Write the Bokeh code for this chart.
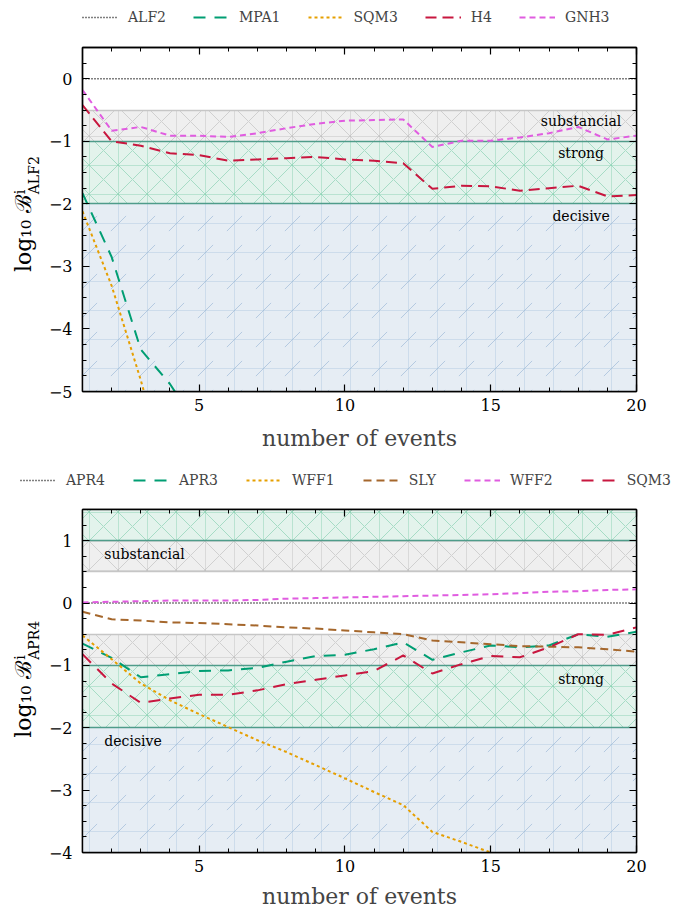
import math
from bokeh.plotting import figure
from bokeh.models import (Range1d, SingleIntervalTicker, LinearAxis, Legend,
                          LegendItem, Label, CustomJSTickFormatter)
from bokeh.layouts import column, row
from bokeh.embed import file_html
from bokeh.resources import INLINE
from bokeh.core.properties import value

FONT = "DejaVu Serif"

# ---------------- data ----------------
n_events = list(range(1, 21))

# top panel (reference EOS: ALF2)
top_alf2 = [0.0, 0.0, 0.0, 0.0, 0.0, 0.0, 0.0, 0.0, 0.0, 0.0,
            0.0, 0.0, 0.0, 0.0, 0.0, 0.0, 0.0, 0.0, 0.0, 0.0]
top_mpa1 = [-1.83, -2.85, -4.33, -4.88, -5.60]
top_sqm3 = [-2.12, -3.31, -4.82, -6.50]
top_h4 = [-0.42, -1.00, -1.07, -1.19, -1.22, -1.31, -1.29, -1.27, -1.25, -1.29,
          -1.31, -1.35, -1.76, -1.71, -1.72, -1.79, -1.75, -1.71, -1.88, -1.86]
top_gnh3 = [-0.18, -0.83, -0.77, -0.91, -0.91, -0.93, -0.87, -0.79, -0.72, -0.67,
            -0.66, -0.65, -1.09, -0.99, -0.99, -0.94, -0.87, -0.77, -0.97, -0.91]

# bottom panel (reference EOS: APR4)
bot_apr4 = [0.0, 0.0, 0.0, 0.0, 0.0, 0.0, 0.0, 0.0, 0.0, 0.0,
            0.0, 0.0, 0.0, 0.0, 0.0, 0.0, 0.0, 0.0, 0.0, 0.0]
bot_apr3 = [-0.65, -0.88, -1.19, -1.14, -1.09, -1.08, -1.04, -0.94, -0.85, -0.83,
            -0.74, -0.63, -0.91, -0.79, -0.68, -0.71, -0.68, -0.50, -0.54, -0.46]
bot_wff1 = [-0.52, -0.90, -1.29, -1.56, -1.78, -1.99, -2.20, -2.39, -2.60, -2.81,
            -3.03, -3.24, -3.67, -3.83, -4.00]
bot_sly = [-0.14, -0.26, -0.28, -0.31, -0.32, -0.34, -0.36, -0.39, -0.41, -0.44,
           -0.47, -0.50, -0.60, -0.63, -0.66, -0.69, -0.70, -0.71, -0.74, -0.78]
bot_wff2 = [0.01, 0.02, 0.03, 0.04, 0.04, 0.04, 0.05, 0.07, 0.08, 0.09,
            0.10, 0.11, 0.12, 0.13, 0.14, 0.16, 0.18, 0.19, 0.21, 0.22]
bot_sqm3 = [-0.82, -1.29, -1.60, -1.53, -1.47, -1.47, -1.40, -1.30, -1.23, -1.16,
            -1.09, -0.84, -1.13, -0.98, -0.85, -0.87, -0.71, -0.50, -0.51, -0.39]

# Jeffreys scale bands (|log10 B|)
band_names = ["substancial", "strong", "decisive"]
band_lo = [0.5, 1.0, 2.0]
band_hi = [1.0, 2.0, 6.0]

top_y_ticks = [0, -1, -2, -3, -4, -5]
bot_y_ticks = [1, 0, -1, -2, -3, -4]

# ---------------- styles ----------------
C_BLACK = "black"
C_GREEN = "#009e73"
C_ORANGE = "#e69f00"
C_CRIMSON = "#c8173f"
C_MAGENTA = "#e05ce0"
C_BROWN = "#a5672c"

BAND_STYLE = {
    "substancial": dict(fill="#efefef", hatch="#bababa", pat=[("x", 0.6), ("+", 0.4)],
                        edge="#c6c6c6"),
    "strong": dict(fill="#e3f3ec", hatch="#86d0b0", pat=[("x", 0.65), ("+", 0.45)],
                   edge="#4f9c8a"),
    "decisive": dict(fill="#e6edf4", hatch="#9fbcd9", pat=[(",", 0.7), ("+", 0.35)],
                     edge="#4f9c8a"),
}

PAGE_W = 683
LABEL_W = 45
FRAME_LEFT = 80
FRAME_RIGHT = 47
LEGEND_H = 34


def minus(v):
    return ("\u2212" + str(abs(v))) if v < 0 else str(v)


def style_lines(series):
    return [dict(line_color=c, line_dash=d, line_width=w) for (_, _, c, d, w) in series]


def build_panel(series, y_lo, y_hi, y_ticks, sides, height, mb_top, mb_bottom,
                band_text, xlabel_standoff):
    p = figure(width=PAGE_W - LABEL_W, height=height, output_backend="svg",
               toolbar_location=None,
               x_range=Range1d(n_events[0], n_events[-1]), y_range=Range1d(y_lo, y_hi),
               min_border_left=FRAME_LEFT - LABEL_W, min_border_right=FRAME_RIGHT,
               min_border_top=mb_top, min_border_bottom=mb_bottom)
    p.xgrid.visible = False
    p.ygrid.visible = False
    p.outline_line_color = "black"
    p.outline_line_width = 1.4
    p.background_fill_color = "white"

    for sign in sides:
        for name, lo, hi in zip(band_names, band_lo, band_hi):
            st = BAND_STYLE[name]
            b0, b1 = sorted([sign * lo, sign * hi])
            for k, (pat, alpha) in enumerate(st["pat"]):
                p.quad(left=[n_events[0]], right=[n_events[-1]], bottom=[b0], top=[b1],
                       fill_color=st["fill"] if k == 0 else None, line_color=None,
                       hatch_pattern=pat, hatch_color=st["hatch"],
                       hatch_alpha=alpha, hatch_scale=29, hatch_weight=1)
        for name, lo in zip(band_names, band_lo):
            p.hspan(y=[sign * lo], line_color=BAND_STYLE[name]["edge"], line_width=1.6)

    for (label, ys, _, _, _), st in zip(series, style_lines(series)):
        p.line(n_events[:len(ys)], ys, **st)

    for txt, tx, ty, align in band_text:
        p.add_layout(Label(x=tx, y=ty, text=txt, text_align=align,
                           text_baseline="middle", text_font=FONT,
                           text_font_size="14px", text_color="black"))

    xt = SingleIntervalTicker(interval=5, num_minor_ticks=5)
    yt = SingleIntervalTicker(interval=1, num_minor_ticks=4)
    for ax in p.xaxis:
        ax.ticker = xt
        ax.axis_label = "number of events"
        ax.axis_label_text_font = FONT
        ax.axis_label_text_font_size = "22px"
        ax.axis_label_text_font_style = "normal"
        ax.axis_label_standoff = xlabel_standoff
        ax.major_label_standoff = 7
    for ax in p.yaxis:
        ax.ticker = yt
        ax.major_label_overrides = {t: minus(t) for t in y_ticks}
        ax.major_label_standoff = 10
    blank = CustomJSTickFormatter(code="return ''")
    extra_x = LinearAxis(ticker=xt, formatter=blank, major_label_standoff=0)
    extra_y = LinearAxis(ticker=yt, formatter=blank, major_label_standoff=0)
    p.add_layout(extra_x, "above")
    p.add_layout(extra_y, "right")
    for ax in p.axis:
        ax.major_tick_in = 7
        ax.major_tick_out = 0
        ax.minor_tick_in = 4
        ax.minor_tick_out = 0
        ax.axis_line_color = "black"
        ax.axis_line_width = 1.4
        ax.major_tick_line_color = "black"
        ax.minor_tick_line_color = "black"
        ax.major_tick_line_width = 1.2
        ax.minor_tick_line_width = 1
        ax.major_label_text_font = FONT
        ax.major_label_text_font_size = "16px"
        ax.major_label_text_color = "black"
    return p


def build_ylabel(ref_name, height, mb_top, mb_bottom):
    q = figure(width=LABEL_W, height=height, output_backend="svg", toolbar_location=None,
               x_range=Range1d(0, LABEL_W), y_range=Range1d(0, height),
               x_axis_type=None, y_axis_type=None, min_border=0)
    q.xgrid.visible = False
    q.ygrid.visible = False
    q.outline_line_color = None
    frame_h = height - mb_top - mb_bottom
    y0 = mb_bottom + frame_h / 2 + 1
    q.text(x=[23], y=[y0], text=["log\u2081\u2080 \u212c"], angle=math.pi / 2,
           text_align="right", text_baseline="alphabetic",
           text_font=value(FONT), text_font_size="22px", text_color="black")
    q.text(x=[19, 33], y=[y0 + 1, y0 + 1], text=["i", ref_name], angle=math.pi / 2,
           text_align="left", text_baseline="alphabetic",
           text_font=value(FONT), text_font_size="14px", text_color="black")
    return q


def build_legend(series, x0, spacing):
    # legend strip: same series, drawn far outside this strip's visible range
    q = figure(width=PAGE_W, height=LEGEND_H, output_backend="svg", toolbar_location=None,
               x_range=Range1d(0, 1), y_range=Range1d(100, 101),
               x_axis_type=None, y_axis_type=None, min_border=0)
    q.xgrid.visible = False
    q.ygrid.visible = False
    q.outline_line_color = None
    items = []
    for (label, ys, _, _, _), st in zip(series, style_lines(series)):
        r = q.line(x=n_events[:len(ys)], y=ys, **st)
        items.append(LegendItem(label=label, renderers=[r]))
    legend = Legend(items=items, orientation="horizontal", location=(x0, 9),
                    glyph_width=36, glyph_height=16, label_standoff=10, spacing=spacing,
                    padding=0, margin=0, border_line_color=None,
                    background_fill_alpha=0, label_text_font=FONT,
                    label_text_font_size="14px", label_height=16)
    q.add_layout(legend)
    return q


top_series = [
    ("ALF2", top_alf2, C_BLACK, "1 2", 1.4),
    ("MPA1", top_mpa1, C_GREEN, "12 9", 2),
    ("SQM3", top_sqm3, C_ORANGE, "3 3", 2),
    ("H4", top_h4, C_CRIMSON, "11 6", 2),
    ("GNH3", top_gnh3, C_MAGENTA, "6 4", 2),
]
bot_series = [
    ("APR4", bot_apr4, C_BLACK, "1 2", 1.4),
    ("APR3", bot_apr3, C_GREEN, "12 9", 2),
    ("WFF1", bot_wff1, C_ORANGE, "3 3", 2),
    ("SLY", bot_sly, C_BROWN, "8 5", 2),
    ("WFF2", bot_wff2, C_MAGENTA, "6 4", 2),
    ("SQM3", bot_sqm3, C_CRIMSON, "12 9", 2),
]

top_text = [("substancial", 18.1, -0.68, "center"), ("strong", 18.1, -1.19, "center"),
            ("decisive", 18.1, -2.2, "center")]
bot_text = [("substancial", 1.75, 0.79, "left"), ("strong", 18.1, -1.22, "center"),
            ("decisive", 1.75, -2.21, "left")]

H1, T1, B1 = 463 - LEGEND_H, 47 - LEGEND_H, 72
H2, T2, B2 = 448 - LEGEND_H, 46 - LEGEND_H, 59

p1 = build_panel(top_series, -5, 0.5, top_y_ticks, [-1], H1, T1, B1, top_text, 12)
p2 = build_panel(bot_series, -4, 1.5, bot_y_ticks, [-1, 1], H2, T2, B2, bot_text, 9)
l1 = build_ylabel("ALF2", H1, T1, B1)
l2 = build_ylabel("APR4", H2, T2, B2)
g1 = build_legend(top_series, 82, 27)
g2 = build_legend(bot_series, 20, 28)

layout = column(g1, row(l1, p1, spacing=0), g2, row(l2, p2, spacing=0), spacing=0)
open("out.html", "w").write(file_html(layout, INLINE))
